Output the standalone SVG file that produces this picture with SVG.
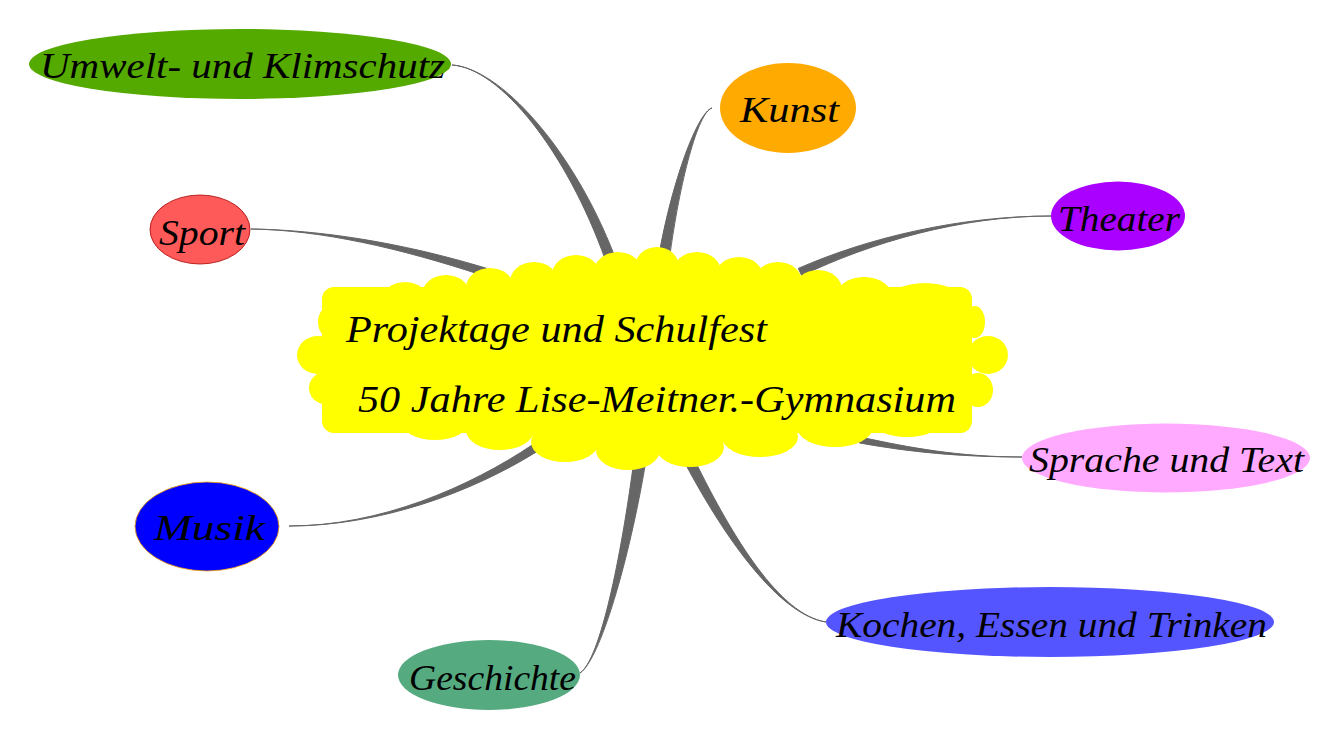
<svg xmlns="http://www.w3.org/2000/svg" width="1341" height="739" viewBox="0 0 1341 739">
<style>
.conn{fill:#666666;stroke:#666666;stroke-width:1;stroke-linejoin:round}
.lbl{font-family:"Liberation Serif","DejaVu Serif",serif;font-style:italic;font-size:36px;fill:#000}
.ctr{font-family:"Liberation Serif","DejaVu Serif",serif;font-style:italic;font-size:38px;fill:#000}
.cloud *{fill:#ffff00;stroke:none}
</style>
<rect x="0" y="0" width="1341" height="739" fill="#ffffff"/>
<g id="connectors">
<path class="conn" d="M452,65 C500,68 573.3,148.8 614.7,256.3 L605.3,259.7 C566.7,151.2 500,68 452,65 Z"/>
<path class="conn" d="M251,229 C320,230 399.2,247.7 483.8,275.8 L486.2,268.2 C400.8,242.3 320,230 251,229 Z"/>
<path class="conn" d="M712,108 C698,112 679.8,180.6 669.4,258.8 L658.6,257.2 C672.2,179.4 698,112 712,108 Z"/>
<path class="conn" d="M1051,216 C960,216 871.2,242.5 801.7,275.6 L798.3,268.4 C868.8,237.5 960,216 1051,216 Z"/>
<path class="conn" d="M1022,457 C960,457 910.4,447.9 860.6,437.1 L859.4,442.9 C909.6,452.1 960,457 1022,457 Z"/>
<path class="conn" d="M826,622 C780,615 733.1,538.4 694.4,459.7 L685.6,464.3 C726.9,541.6 780,615 826,622 Z"/>
<path class="conn" d="M580,673 C600,660 629.2,560.6 645.9,460.9 L634.1,459.1 C620.8,559.4 600,660 580,673 Z"/>
<path class="conn" d="M289,526 C380,526 471.5,492.4 537.2,451.4 L532.8,444.6 C468.5,487.6 380,526 289,526 Z"/>
</g>
<g id="center">
<g class="cloud">
<rect x="322" y="287" width="650" height="146" rx="12"/>
<polygon points="383,300 405,302 446,295 490,288 534,282 576,275 618,272 657,267 697,272 739,277 778,282 818,290 864,297 925,303 925,320 383,320"/>
<ellipse cx="405" cy="302" rx="24" ry="20"/>
<ellipse cx="446" cy="295" rx="24" ry="20"/>
<ellipse cx="490" cy="288" rx="24" ry="20"/>
<ellipse cx="534" cy="282" rx="24" ry="20"/>
<ellipse cx="576" cy="275" rx="24" ry="20"/>
<ellipse cx="618" cy="272" rx="24" ry="20"/>
<ellipse cx="657" cy="267" rx="22" ry="20"/>
<ellipse cx="697" cy="272" rx="24" ry="20"/>
<ellipse cx="739" cy="277" rx="24" ry="20"/>
<ellipse cx="778" cy="282" rx="24" ry="20"/>
<ellipse cx="818" cy="290" rx="24" ry="20"/>
<ellipse cx="864" cy="297" rx="28" ry="20"/>
<ellipse cx="925" cy="303" rx="38" ry="20"/>
<polygon points="365,420 365,413 435,420 500,430 565,442 628,450 690,447 760,437 835,427 907,417 907,410 365,410"/>
<ellipse cx="365" cy="413" rx="35" ry="20"/>
<ellipse cx="435" cy="420" rx="35" ry="20"/>
<ellipse cx="500" cy="430" rx="34" ry="20"/>
<ellipse cx="565" cy="442" rx="34" ry="20"/>
<ellipse cx="628" cy="450" rx="32" ry="20"/>
<ellipse cx="690" cy="447" rx="34" ry="20"/>
<ellipse cx="760" cy="437" rx="38" ry="20"/>
<ellipse cx="835" cy="427" rx="38" ry="20"/>
<ellipse cx="907" cy="417" rx="38" ry="20"/>
<ellipse cx="330" cy="322" rx="12" ry="16"/>
<ellipse cx="318" cy="355" rx="21" ry="19"/>
<ellipse cx="325" cy="388" rx="16" ry="16"/>
<ellipse cx="975" cy="322" rx="10" ry="16"/>
<ellipse cx="988" cy="355" rx="20" ry="19"/>
<ellipse cx="978" cy="390" rx="15" ry="17"/>
</g>
<text class="ctr" x="346" y="342" textLength="421" lengthAdjust="spacingAndGlyphs">Projektage und Schulfest</text>
<text class="ctr" x="358" y="412" textLength="598" lengthAdjust="spacingAndGlyphs">50 Jahre Lise-Meitner.-Gymnasium</text>
</g>
<g id="umwelt">
<ellipse cx="240" cy="64" rx="211" ry="35" fill="#55aa00"/>
<text class="lbl" x="40" y="78" textLength="405" lengthAdjust="spacingAndGlyphs">Umwelt- und Klimschutz</text>
</g>
<g id="sport">
<ellipse cx="200" cy="229.5" rx="50" ry="34.5" fill="#ff5a5a" stroke="#aa0000" stroke-width="0.8"/>
<text class="lbl" x="159" y="245" textLength="86" lengthAdjust="spacingAndGlyphs">Sport</text>
</g>
<g id="kunst">
<ellipse cx="788" cy="108" rx="68" ry="45" fill="#ffaa00"/>
<text class="lbl" x="740" y="122" textLength="99" lengthAdjust="spacingAndGlyphs">Kunst</text>
</g>
<g id="theater">
<ellipse cx="1118" cy="216" rx="67" ry="34.5" fill="#aa00ff"/>
<text class="lbl" x="1058" y="231" textLength="122" lengthAdjust="spacingAndGlyphs">Theater</text>
</g>
<g id="sprache">
<ellipse cx="1166" cy="458" rx="144" ry="34.5" fill="#ffaaff"/>
<text class="lbl" x="1029" y="472" textLength="275" lengthAdjust="spacingAndGlyphs">Sprache und Text</text>
</g>
<g id="kochen">
<ellipse cx="1050" cy="622" rx="224" ry="35" fill="#5555ff"/>
<text class="lbl" x="836" y="637" textLength="431" lengthAdjust="spacingAndGlyphs">Kochen, Essen und Trinken</text>
</g>
<g id="geschichte">
<ellipse cx="489" cy="675" rx="91" ry="35" fill="#55aa80"/>
<text class="lbl" x="409" y="690" textLength="167" lengthAdjust="spacingAndGlyphs">Geschichte</text>
</g>
<g id="musik">
<ellipse cx="207" cy="526.5" rx="72" ry="44.5" fill="#0000ff" stroke="#ffaa00" stroke-width="0.8"/>
<text class="lbl" x="154" y="540" textLength="111" lengthAdjust="spacingAndGlyphs">Musik</text>
</g>
</svg>
